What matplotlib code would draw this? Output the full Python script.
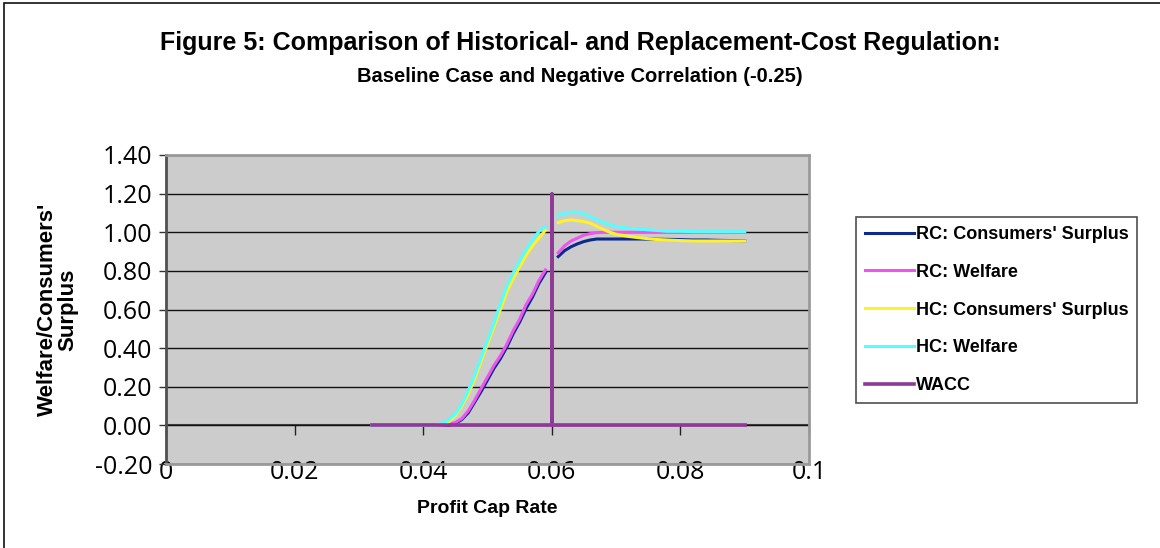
import matplotlib.pyplot as plt
import numpy as np
from matplotlib.patches import Rectangle

# ---- data (gap at the WACC = 0.06) ----
rate = [0.032, 0.036, 0.040, 0.042, 0.043, 0.044, 0.045, 0.046, 0.047, 0.048,
        0.049, 0.050, 0.051, 0.052, 0.053, 0.054, 0.055, 0.056, 0.057, 0.058,
        0.059, 0.060, 0.061, 0.062, 0.063, 0.064, 0.065, 0.066, 0.067, 0.068,
        0.069, 0.070, 0.072, 0.074, 0.076, 0.078, 0.080, 0.082, 0.084, 0.086,
        0.088, 0.090]
nan = np.nan
rc_cs = [0, 0, 0, 0, 0, 0, 0.01, 0.03, 0.065, 0.12,
         0.175, 0.235, 0.295, 0.345, 0.405, 0.475, 0.535, 0.605, 0.665, 0.735,
         0.79, nan, 0.874, 0.905, 0.925, 0.94, 0.952, 0.96, 0.965, 0.965,
         0.965, 0.965, 0.965, 0.965, 0.964, 0.963, 0.962, 0.96, 0.96, 0.958,
         0.957, 0.956]
rc_w = [0, 0, 0, 0, 0, 0.005, 0.015, 0.035, 0.075, 0.13,
        0.19, 0.25, 0.31, 0.36, 0.42, 0.49, 0.55, 0.625, 0.68, 0.75,
        0.805, nan, 0.894, 0.93, 0.955, 0.97, 0.985, 0.993, 0.998, 1.0,
        1.0, 1.0, 1.0, 1.0, 1.0, 1.0, 1.0, 1.0, 1.0, 1.0,
        1.0, 1.0]
hc_cs = [0, 0, 0, 0, 0.005, 0.02, 0.05, 0.10, 0.16, 0.24,
         0.33, 0.42, 0.51, 0.60, 0.69, 0.76, 0.82, 0.88, 0.93, 0.97,
         1.01, nan, 1.05, 1.06, 1.064, 1.06, 1.055, 1.047, 1.03, 1.015,
         1.0, 0.99, 0.978, 0.97, 0.963, 0.96, 0.957, 0.955, 0.955, 0.955,
         0.955, 0.955]
hc_w = [0, 0, 0, 0, 0.01, 0.03, 0.06, 0.11, 0.18, 0.26,
        0.35, 0.44, 0.53, 0.63, 0.72, 0.79, 0.85, 0.91, 0.96, 1.005,
        1.03, nan, 1.088, 1.098, 1.104, 1.104, 1.095, 1.08, 1.065, 1.05,
        1.04, 1.03, 1.02, 1.015, 1.01, 1.005, 1.005, 1.003, 1.003, 1.003,
        1.003, 1.003]
wacc_x = [0.032, 0.060, 0.060, 0.060, 0.090]
wacc_y = [0, 0, 1.2, 0, 0]

series = [
    ("RC: Consumers' Surplus", rc_cs, "#0B2A8C"),
    ("RC: Welfare", rc_w, "#EE55EE"),
    ("HC: Consumers' Surplus", hc_cs, "#FFF22A"),
    ("HC: Welfare", hc_w, "#55FFFF"),
]

xticks = [0, 0.02, 0.04, 0.06, 0.08, 0.1]
xticklabels = ["0", "0.02", "0.04", "0.06", "0.08", "0.1"]
yticks = np.arange(-0.2, 1.41, 0.2)

BOLD = ["Liberation Sans Narrow", "Liberation Sans"]
TICKFONT = "Open Sans"

fig = plt.figure(figsize=(11.6, 5.48), dpi=100)
ax = fig.add_axes([166 / 1160, 1 - 464 / 548, 643 / 1160, 309 / 548])
ax.set_facecolor("#CCCCCC")

for label, vals, col in series:
    ax.plot(rate, vals, color=col, lw=2.2, label=label, zorder=3)
ax.plot(wacc_x, wacc_y, color="#8E3A96", lw=2.6, label="WACC", zorder=4)

ax.set_xlim(0, 0.1)
ax.set_ylim(-0.2, 1.4)
ax.set_yticks(yticks)
ax.set_yticklabels([f"{v:.2f}" for v in yticks], fontfamily=TICKFONT, fontsize=18)
ax.set_xticks(xticks)
ax.set_xticklabels(xticklabels, fontfamily=TICKFONT, fontsize=18)
ax.tick_params(axis="x", length=0, pad=-3)
ax.tick_params(axis="y", length=5, width=1, color="#333333", pad=5)
ax.yaxis.grid(True, color="#111111", lw=1)
ax.set_axisbelow(True)

for side in ("top", "right", "bottom"):
    ax.spines[side].set_color("#9A9A9A")
    ax.spines[side].set_linewidth(2)
ax.spines["left"].set_color("#505050")
ax.spines["left"].set_linewidth(2)

# category axis crossing at 0.00 with outward tick marks
zero_pos = (0 - (-0.2)) / 1.6
sec = ax.secondary_xaxis(zero_pos)
sec.set_xticks(xticks)
sec.tick_params(length=7, width=1, color="#222222", labelbottom=False)
sec.spines["bottom"].set_color("#444444")
sec.spines["bottom"].set_linewidth(1.5)

ax.set_xlabel("Profit Cap Rate", fontfamily=BOLD, fontweight="bold",
              fontsize=14, labelpad=11)
ax.set_ylabel("Welfare/Consumers'\nSurplus", fontfamily=BOLD,
              fontweight="bold", fontsize=16, labelpad=12, linespacing=0.95)

fig.text(0.5, 1 - 43 / 548, "Figure 5: Comparison of Historical- and Replacement-Cost Regulation:",
         ha="center", va="center", fontfamily=BOLD, fontweight="bold", fontsize=18)
fig.text(0.5, 1 - 77 / 548, "Baseline Case and Negative Correlation (-0.25)",
         ha="center", va="center", fontfamily=BOLD, fontweight="bold", fontsize=14.5)

leg = fig.legend(loc="upper left", bbox_to_anchor=(856 / 1160, 1 - 217 / 548),
                 frameon=True, fancybox=False, edgecolor="#222222",
                 prop={"family": BOLD, "weight": "bold", "size": 13},
                 handlelength=2.7, handletextpad=0.1, labelspacing=1.15,
                 borderpad=0.5, borderaxespad=0)
leg.get_frame().set_linewidth(1.2)

# chart area border (cropped on the right and bottom in the reference)
fig.patches.append(Rectangle((4 / 1160, -0.05), 1.1, 1 - 3 / 548 + 0.05,
                             transform=fig.transFigure, fill=False,
                             edgecolor="#111111", lw=1.2))

fig.savefig("out.png", dpi=100)
